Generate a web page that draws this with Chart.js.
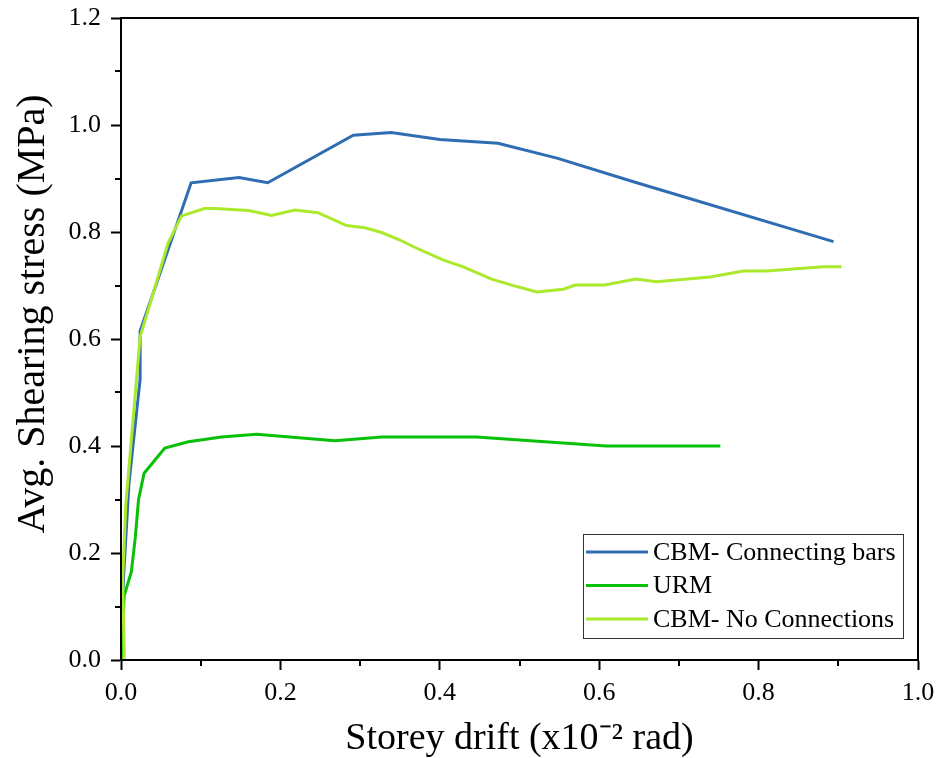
<!DOCTYPE html>
<html>
<head>
<meta charset="utf-8">
<script src="https://cdn.jsdelivr.net/npm/chart.js@4.4.0/dist/chart.umd.min.js"></script>
<style>
  body { margin: 0; background: #fff; }
  #wrap { width: 936px; height: 758px; }
</style>
</head>
<body>
<div id="wrap"><canvas id="myChart" width="936" height="758"></canvas></div>
<script>
// Storey drift (x10^-2 rad) and avg. shearing stress (MPa) per series
const barsDrift = [0, 0.003, 0.010, 0.024, 0.024, 0.088, 0.148, 0.184, 0.2915, 0.339, 0.400, 0.473, 0.547, 0.643, 0.894];
const barsStress = [0, 0.15, 0.33, 0.525, 0.615, 0.892, 0.902, 0.892, 0.981, 0.986, 0.973, 0.966, 0.938, 0.894, 0.782];

const urmDrift = [0, 0.004, 0.013, 0.018, 0.022, 0.029, 0.055, 0.0845, 0.126, 0.170, 0.2685, 0.327, 0.446, 0.609, 0.752];
const urmStress = [0, 0.12, 0.165, 0.23, 0.30, 0.349, 0.396, 0.408, 0.417, 0.422, 0.410, 0.417, 0.417, 0.400, 0.400];

const noConDrift = [0.005, 0.004, 0.002, 0.006, 0.024, 0.059, 0.076, 0.1045, 0.118, 0.160, 0.189, 0.218, 0.247, 0.283, 0.306,
  0.327, 0.350, 0.369, 0.404, 0.4295, 0.465, 0.4965, 0.522, 0.555, 0.570, 0.607, 0.646, 0.672, 0.739, 0.781, 0.810, 0.881, 0.904];
const noConStress = [0, 0.02, 0.15, 0.29, 0.604, 0.779, 0.830, 0.844, 0.844, 0.840, 0.831, 0.841, 0.836, 0.812, 0.808,
  0.799, 0.785, 0.771, 0.748, 0.735, 0.712, 0.698, 0.688, 0.693, 0.701, 0.701, 0.712, 0.707, 0.716, 0.727, 0.727, 0.735, 0.735];

const seriesLabels = ["CBM- Connecting bars", "URM", "CBM- No Connections"];
const seriesColors = ["#2f6db3", "#08c008", "#aae92c"];

const xMinorTicks = [0.1, 0.3, 0.5, 0.7, 0.9];
const yMinorTicks = [0.1, 0.3, 0.5, 0.7, 0.9, 1.1];

const FONT = "'Liberation Serif', 'Times New Roman', serif";

function toPoints(xs, ys) {
  return xs.map((x, i) => ({ x: x, y: ys[i] }));
}

// frame, minor ticks and boxed legend
const framePlugin = {
  id: "frame",
  afterDraw(chart) {
    const ctx = chart.ctx;
    const a = chart.chartArea;
    const xs = chart.scales.x;
    const ys = chart.scales.y;
    ctx.save();
    ctx.strokeStyle = "#000";
    ctx.lineWidth = 2;
    ctx.strokeRect(a.left, a.top, a.right - a.left, a.bottom - a.top);

    // minor ticks
    ctx.beginPath();
    xMinorTicks.forEach((v) => {
      const px = Math.round(xs.getPixelForValue(v));
      ctx.moveTo(px, a.bottom);
      ctx.lineTo(px, a.bottom + 6);
    });
    yMinorTicks.forEach((v) => {
      const py = Math.round(ys.getPixelForValue(v));
      ctx.moveTo(a.left, py);
      ctx.lineTo(a.left - 6, py);
    });
    ctx.stroke();

    // legend
    const bx = 583, by = 534, bw = 320, bh = 104;
    ctx.fillStyle = "#fff";
    ctx.fillRect(bx, by, bw, bh);
    ctx.lineWidth = 1;
    ctx.strokeStyle = "#333";
    ctx.strokeRect(bx + 0.5, by + 0.5, bw, bh);
    ctx.font = "26px " + FONT;
    ctx.textBaseline = "middle";
    chart.data.datasets.forEach((ds, i) => {
      const cy = by + 18 + i * 33.5;
      ctx.strokeStyle = ds.borderColor;
      ctx.lineWidth = 3;
      ctx.beginPath();
      ctx.moveTo(bx + 3, cy);
      ctx.lineTo(bx + 65, cy);
      ctx.stroke();
      ctx.fillStyle = "#000";
      ctx.fillText(ds.label, bx + 70, cy + 1);
    });
    ctx.restore();
  },
};

const ctx = document.getElementById("myChart");

const lineChart = new Chart(ctx, {
  type: "line",
  data: {
    datasets: [
      {
        label: seriesLabels[0],
        data: toPoints(barsDrift, barsStress),
        borderColor: seriesColors[0],
        order: 2,
      },
      {
        label: seriesLabels[1],
        data: toPoints(urmDrift, urmStress),
        borderColor: seriesColors[1],
        order: 1,
      },
      {
        label: seriesLabels[2],
        data: toPoints(noConDrift, noConStress),
        borderColor: seriesColors[2],
        order: 0,
      },
    ],
  },
  options: {
    responsive: false,
    animation: false,
    layout: { padding: { top: 18, right: 18, left: 0, bottom: 0 } },
    elements: {
      line: { borderWidth: 3, tension: 0, fill: false },
      point: { radius: 0 },
    },
    plugins: {
      legend: { display: false },
      tooltip: { enabled: false },
    },
    scales: {
      x: {
        type: "linear",
        min: 0,
        max: 1.0,
        afterFit: (scale) => {
          scale.height = 98;
          scale.paddingLeft = 0;
          scale.paddingRight = 0;
        },
        border: { color: "#000", width: 2 },
        grid: { drawOnChartArea: false, tickLength: 10, tickWidth: 2, tickColor: "#000" },
        ticks: {
          stepSize: 0.2,
          padding: 8,
          color: "#000",
          font: { family: FONT, size: 26 },
          callback: (v) => v.toFixed(1),
        },
        title: {
          display: true,
          text: "Storey drift (x10\u207B\u00B2 rad)",
          color: "#000",
          font: { family: FONT, size: 38, lineHeight: 1 },
          padding: { top: -3, bottom: 0 },
        },
      },
      y: {
        min: 0,
        max: 1.2,
        afterFit: (scale) => {
          scale.width = 121;
          scale.paddingTop = 0;
          scale.paddingBottom = 0;
        },
        border: { color: "#000", width: 2 },
        grid: { drawOnChartArea: false, tickLength: 10, tickWidth: 2, tickColor: "#000" },
        ticks: {
          stepSize: 0.2,
          padding: 10,
          color: "#000",
          font: { family: FONT, size: 26 },
          callback: (v) => v.toFixed(1),
        },
        title: {
          display: true,
          // leading spaces nudge the centred title upward like the original
          text: "\u00A0\u00A0\u00A0\u00A0\u00A0Avg. Shearing stress (MPa)",
          color: "#000",
          font: { family: FONT, size: 40, lineHeight: 1 },
          padding: { top: 13, bottom: 0 },
        },
      },
    },
  },
  plugins: [framePlugin],
});
</script>
</body>
</html>
